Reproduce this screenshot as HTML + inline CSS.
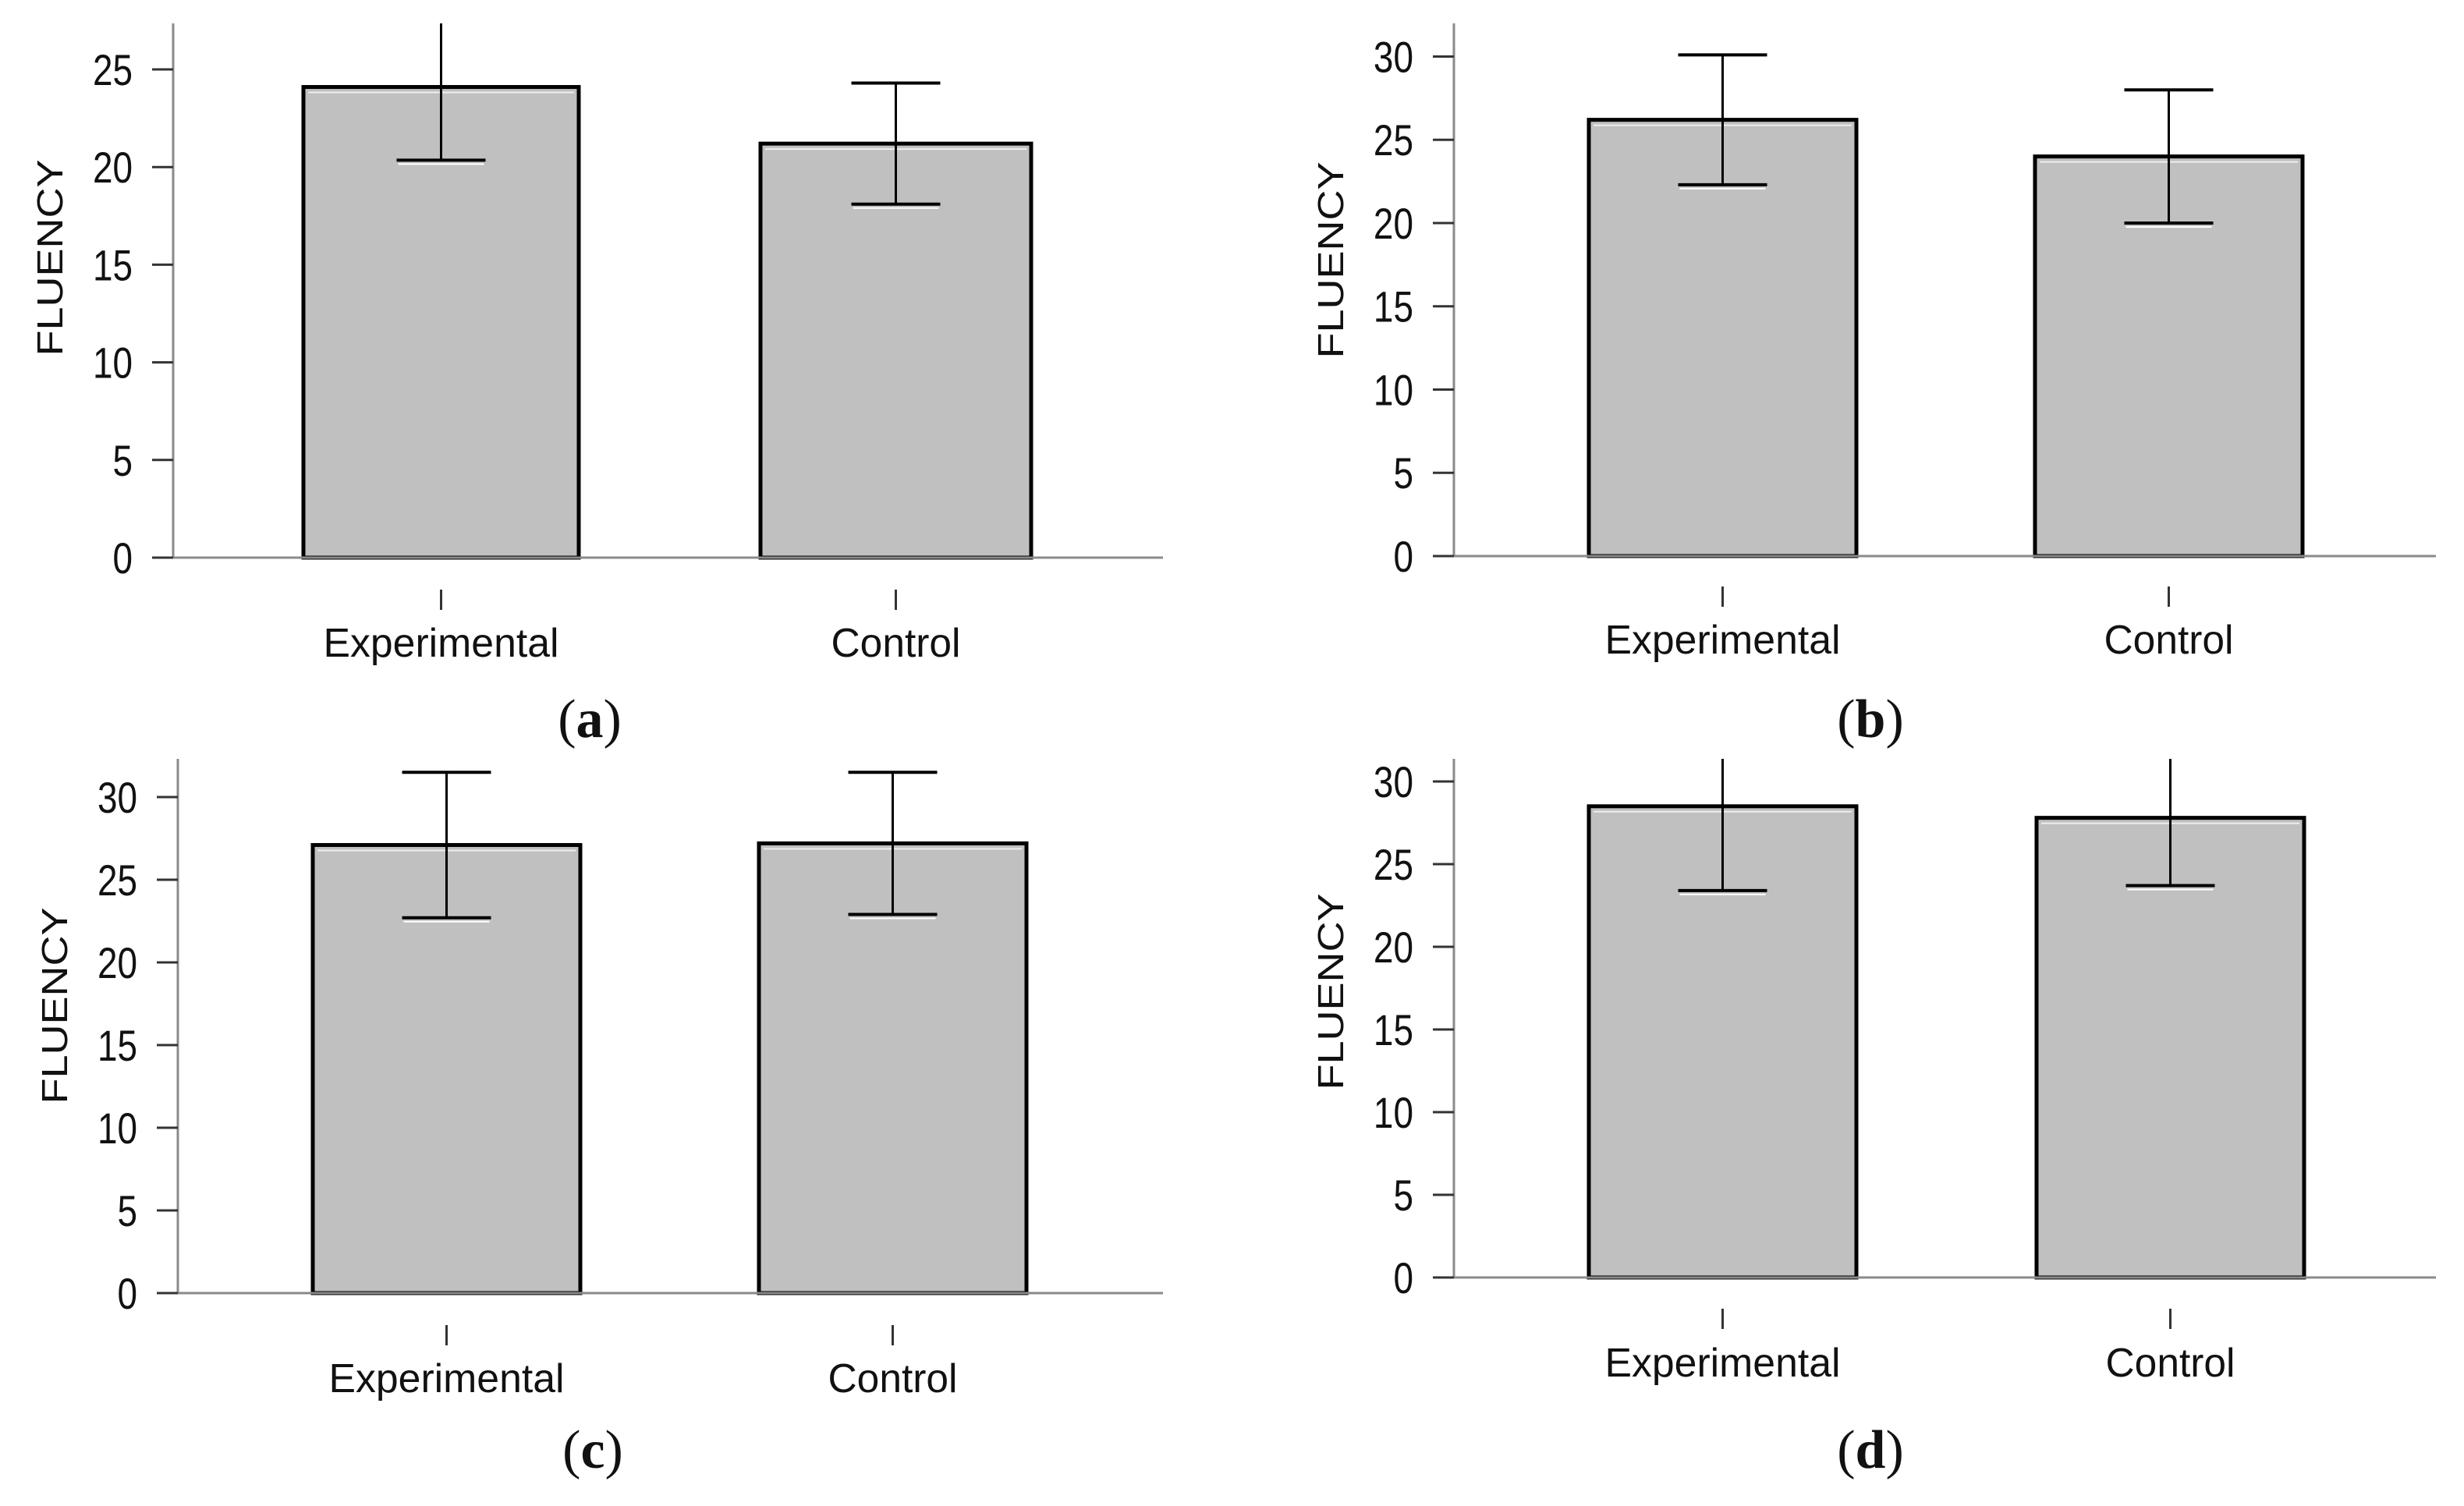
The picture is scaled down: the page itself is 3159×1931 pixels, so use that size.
<!DOCTYPE html>
<html><head><meta charset="utf-8"><style>
html,body{margin:0;padding:0;background:#fff;}
svg{display:block;}
text{font-family:"Liberation Sans",Arial,sans-serif;fill:#111;}
.cap{font-family:"Liberation Serif",serif;}
</style></head><body>
<svg id="fig" width="3159" height="1931" viewBox="0 0 3159 1931"></svg>
<script>
// Data
const categories = ["Experimental", "Control"];
const panelLabels = ["a", "b", "c", "d"];
const meanA = [24.1, 21.2];
const errA = [3.75, 3.1];
const meanB = [26.2, 24.0];
const errB = [3.9, 4.0];
const meanC = [27.1, 27.2];
const errC = [4.4, 4.3];
const meanD = [28.5, 27.8];
const errD = [5.1, 4.1];
const ticksA = [0, 5, 10, 15, 20, 25];
const ticksBCD = [0, 5, 10, 15, 20, 25, 30];

const means = [meanA, meanB, meanC, meanD];
const errs = [errA, errB, errC, errD];
const tickSets = [ticksA, ticksBCD, ticksBCD, ticksBCD];

// layout per panel
const layouts = [
  {ax:222, y0:715, top:30, ppu:25.04, right:1491, bars:[[389,742],[975,1322]], tickY:756, lblY:842, capX:756, capY:945, ttlOff:-42},
  {ax:1864, y0:713, top:30, ppu:21.35, right:3123, bars:[[2037,2380],[2609,2952]], tickY:752, lblY:838, capX:2398, capY:945, ttlOff:-38},
  {ax:228, y0:1658, top:973, ppu:21.2, right:1491, bars:[[401,744],[973,1316]], tickY:1699, lblY:1785, capX:760, capY:1882, ttlOff:-26},
  {ax:1864, y0:1638, top:973, ppu:21.2, right:3123, bars:[[2037,2380],[2611,2954]], tickY:1678, lblY:1765, capX:2398, capY:1882, ttlOff:-34}
];

const NS = "http://www.w3.org/2000/svg";
const svg = document.getElementById("fig");
function mk(tag, attrs, parent) {
  const e = document.createElementNS(NS, tag);
  for (const k in attrs) e.setAttribute(k, attrs[k]);
  (parent || svg).appendChild(e);
  return e;
}

layouts.forEach((L, p) => {
  const g = mk("g", {});
  
  
  const yScale = v => L.y0 - v * L.ppu;
  const clipId = "clip" + p;
  const cp = mk("clipPath", {id: clipId}, g);
  mk("rect", {x: L.ax, y: L.top, width: L.right - L.ax, height: L.y0 - L.top + 10}, cp);

  // bars
  means[p].forEach((m, i) => {
    const [x1, x2] = L.bars[i];
    const r = mk("rect", {x: x1, y: yScale(m), width: x2 - x1, height: L.y0 - yScale(m), fill: "#c0c0c0", stroke: "#000", "stroke-width": 5}, g);
    
    
    mk("line", {x1: x1 + 6, x2: x2 - 6, y1: yScale(m) + 7, y2: yScale(m) + 7, stroke: "#eee", "stroke-width": 2}, g);
  });
  // x axis line
  const xa = mk("line", {x1: L.ax, x2: L.right, y1: L.y0, y2: L.y0, stroke: "#8a8a8a", "stroke-width": 3}, g);
  
  
  // errors
  means[p].forEach((m, i) => {
    const cx = (L.bars[i][0] + L.bars[i][1]) / 2;
    const eg = mk("g", {"clip-path": "url(#" + clipId + ")"}, g);
    
    
    const hi = yScale(m + errs[p][i]), lo = yScale(m - errs[p][i]);
    mk("line", {x1: cx, x2: cx, y1: hi, y2: lo, stroke: "#000", "stroke-width": 3}, eg);
    mk("line", {x1: cx - 57, x2: cx + 57, y1: hi, y2: hi, stroke: "#000", "stroke-width": 4}, eg);
    mk("line", {x1: cx - 57, x2: cx + 57, y1: lo, y2: lo, stroke: "#000", "stroke-width": 4}, eg);
    mk("line", {x1: cx - 55, x2: cx + 55, y1: lo + 5, y2: lo + 5, stroke: "#fff", "stroke-width": 2}, eg);
    // x tick and label
    mk("line", {x1: cx, x2: cx, y1: L.tickY, y2: L.tickY + 26, stroke: "#333", "stroke-width": 3}, g);
    const lbl = categories[i];
    const t = mk("text", {x: cx, y: L.lblY, "text-anchor": "middle", "font-size": 52, textLength: lbl === "Experimental" ? 302 : 166, lengthAdjust: "spacingAndGlyphs"}, g);
    t.textContent = lbl;
    
    
  });
  // y axis
  const ya = mk("line", {x1: L.ax, x2: L.ax, y1: L.top, y2: L.y0, stroke: "#8a8a8a", "stroke-width": 3}, g);
  
  
  tickSets[p].forEach(v => {
    const y = yScale(v);
    mk("line", {x1: L.ax - 27, x2: L.ax, y1: y, y2: y, stroke: "#333", "stroke-width": 3}, g);
    const t = mk("text", {x: L.ax - 52, y: y + 20, "text-anchor": "end", "font-size": 56, transform: "translate(" + (L.ax - 52) + " 0) scale(0.82 1) translate(" + (-(L.ax - 52)) + " 0)"}, g);
    t.textContent = v;
    
    
  });
  // y title
  const yc = (L.top + L.y0) / 2 + L.ttlOff;
  const yt = mk("text", {x: 0, y: 0, "text-anchor": "middle", "font-size": 46, textLength: 252, lengthAdjust: "spacingAndGlyphs", transform: "translate(" + (L.ax - 142) + " " + yc + ") rotate(-90)"}, g);
  yt.textContent = "FLUENCY";
  
  
  // caption
  const c = mk("text", {x: L.capX, y: L.capY, "text-anchor": "middle", "font-size": 70, class: "cap"}, g);
  c.innerHTML = '(<tspan font-weight="bold">' + panelLabels[p] + '</tspan>)';
  
  
});
</script>
</body></html>
